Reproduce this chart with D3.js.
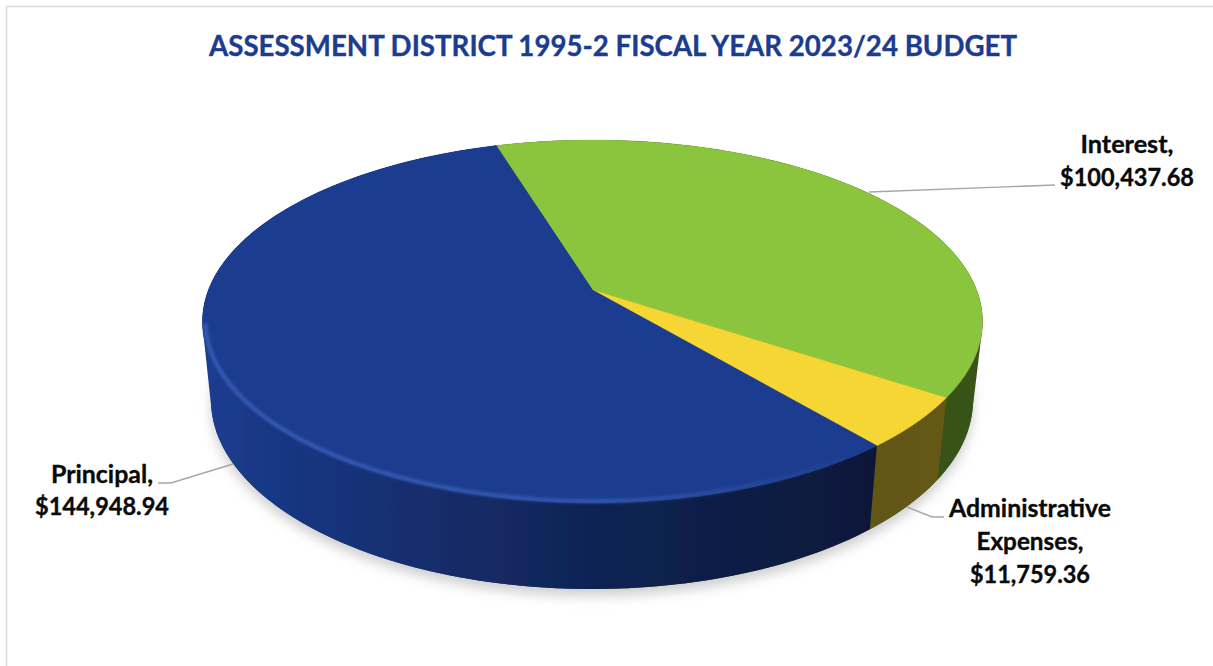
<!DOCTYPE html>
<html><head><meta charset="utf-8">
<script src="https://cdn.jsdelivr.net/npm/d3@7/dist/d3.min.js"></script>
<style>html,body{margin:0;padding:0;background:#fff}svg{display:block}</style>
</head><body><svg id="c" width="1213" height="666"></svg>
<script>
const categories = ["Interest", "Administrative Expenses", "Principal"];
const values = [100437.68, 11759.36, 144948.94];
const valueLabels = ["$100,437.68", "$11,759.36", "$144,948.94"];
const colors = ["#8bc53c", "#f5d634", "#1b3c8f"];
const titleText = "ASSESSMENT DISTRICT 1995-2 FISCAL YEAR 2023/24 BUDGET";

const svg = d3.select("#c");
const defs = svg.append("defs");
const FONT = "Lato, 'Open Sans', sans-serif";

// perspective projection of the unit disc onto a screen ellipse
function projector(cx, rx, yT, yB, k) {
  const b = (yT * (1 - k) + yB * (1 + k)) / 2, a = (yB * (1 + k) - yT * (1 - k)) / 2;
  const c = rx * Math.sqrt(1 - k * k);
  return (ang, r = 1) => {
    const u = r * Math.sin(ang), v = -r * Math.cos(ang), d = 1 + k * v;
    return [cx + c * u / d, (a * v + b) / d];
  };
}
const K = -0.1736;
const topFace = projector(592.5, 390, 140, 503, K);
const botFace = projector(592, 381, 211, 589, K);
const line = d3.line();
const START = -17 * Math.PI / 180;
const arcs = d3.pie().sort(null).startAngle(START).endAngle(START + 2 * Math.PI)(values);
const sweep = (a0, a1, n = 160) => d3.range(n + 1).map(i => a0 + (a1 - a0) * i / n);

// filters
const blur = (id, s) => defs.append("filter").attr("id", id)
  .attr("x", "-10%").attr("y", "-10%").attr("width", "120%").attr("height", "120%")
  .append("feGaussianBlur").attr("stdDeviation", s);
blur("soft", 0.7); blur("shadow", 6); blur("rimBlur", 1.5);

// wall shading across x
const shade = d3.scaleLinear().domain([203, 400, 600, 870, 982]).range([1.0, 0.78, 0.58, 0.4, 0.42]);
const shaded = (col, x) => { const c = d3.rgb(col), s = shade(x); return d3.rgb(c.r * s, c.g * s, c.b * s).formatHex(); };
arcs.forEach((d, i) => {
  const g = defs.append("linearGradient").attr("id", "wall" + i).attr("gradientUnits", "userSpaceOnUse")
    .attr("x1", 203).attr("x2", 982).attr("y1", 0).attr("y2", 0);
  shade.domain().forEach(x => {
    g.append("stop").attr("offset", (x - 203) / (982 - 203)).attr("stop-color", shaded(colors[i], x));
  });
});
// silhouette backing: principal colour on the left, interest colour on the right
const hullG = defs.append("linearGradient").attr("id", "hull").attr("gradientUnits", "userSpaceOnUse")
  .attr("x1", 203).attr("x2", 982).attr("y1", 0).attr("y2", 0);
[[0, shaded(colors[2], 203)], [0.5, shaded(colors[2], 400)], [0.5, shaded(colors[0], 982)], [1, shaded(colors[0], 982)]]
  .forEach(s => hullG.append("stop").attr("offset", s[0]).attr("stop-color", s[1]));

const rimG = defs.append("linearGradient").attr("id", "rim").attr("gradientUnits", "userSpaceOnUse")
  .attr("x1", 203).attr("x2", 860).attr("y1", 0).attr("y2", 0);
[[0, 0.8], [0.6, 0.7], [1, 0]].forEach(s => rimG.append("stop").attr("offset", s[0]).attr("stop-color", "#3f66c4").attr("stop-opacity", s[1]));

// frame
svg.append("path").attr("d", "M6.5,666V6.5H1213").attr("fill", "none").attr("stroke", "#dcdcdc").attr("stroke-width", 1.6);

// title
svg.append("text").text(titleText).attr("x", 613).attr("y", 56).attr("text-anchor", "middle")
  .attr("font-family", FONT).attr("font-weight", 700).attr("font-size", 28).attr("fill", "#1b3c8f")
  .attr("stroke", "#1b3c8f").attr("stroke-width", 0.35)
  .attr("textLength", 808).attr("lengthAdjust", "spacingAndGlyphs");

// shadow
const all = sweep(0, 2 * Math.PI, 240);
svg.append("path").attr("d", line(all.map(a => botFace(a))) + "Z").attr("transform", "translate(0,7)")
  .attr("fill", "#cfcfcf").attr("filter", "url(#shadow)");

const pie = svg.append("g").attr("filter", "url(#soft)");
// outer silhouette joining both rims
const hull = d3.polygonHull(all.map(a => topFace(a)).concat(all.map(a => botFace(a))));
pie.append("path").attr("d", line(hull) + "Z").attr("fill", "url(#hull)");
// walls
arcs.forEach((d, i) => {
  const as = sweep(d.startAngle, d.endAngle);
  const pts = as.map(a => topFace(a)).concat(as.slice().reverse().map(a => botFace(a)));
  pie.append("path").attr("d", line(pts) + "Z").attr("fill", `url(#wall${i})`);
});
// top faces
arcs.forEach((d, i) => {
  const as = sweep(d.startAngle, d.endAngle);
  pie.append("path").attr("d", line([topFace(0, 0)].concat(as.map(a => topFace(a)))) + "Z")
    .attr("fill", colors[i]).attr("stroke", colors[i]).attr("stroke-width", 0.4);
});
// bevel highlight on the principal slice
const pr = arcs[2];
svg.append("path").attr("d", line(sweep(pr.startAngle, Math.PI * 1.44).map(a => topFace(a, 0.993))))
  .attr("fill", "none").attr("stroke", "url(#rim)").attr("stroke-width", 3.6).attr("filter", "url(#rimBlur)");

// leader lines
const leaders = [
  [[869, 192], [1055, 185]],
  [[907, 507], [932, 517], [944, 517]],
  [[233, 464], [171, 483], [158, 483]]
];
leaders.forEach(l => svg.append("path").attr("d", line(l)).attr("fill", "none").attr("stroke", "#a6a6a6").attr("stroke-width", 1.4));

// labels: text, centre x, baseline y, width
const labelLines = [
  [["Interest,", 1127, 153, 93], [valueLabels[0], 1127, 186, 134]],
  [["Administrative", 1030, 517, 162], ["Expenses,", 1030, 550, 107], [valueLabels[1], 1030, 583, 120]],
  [["Principal,", 102, 483, 102], [valueLabels[2], 102, 515, 134]]
];
labelLines.flat().forEach(t => svg.append("text").text(t[0]).attr("x", t[1]).attr("y", t[2])
  .attr("text-anchor", "middle").attr("font-family", FONT).attr("font-weight", 700).attr("font-size", 24)
  .attr("fill", "#0a0a0a").attr("stroke", "#0a0a0a").attr("stroke-width", 0.35)
  .attr("textLength", t[3]).attr("lengthAdjust", "spacingAndGlyphs"));
</script></body></html>
